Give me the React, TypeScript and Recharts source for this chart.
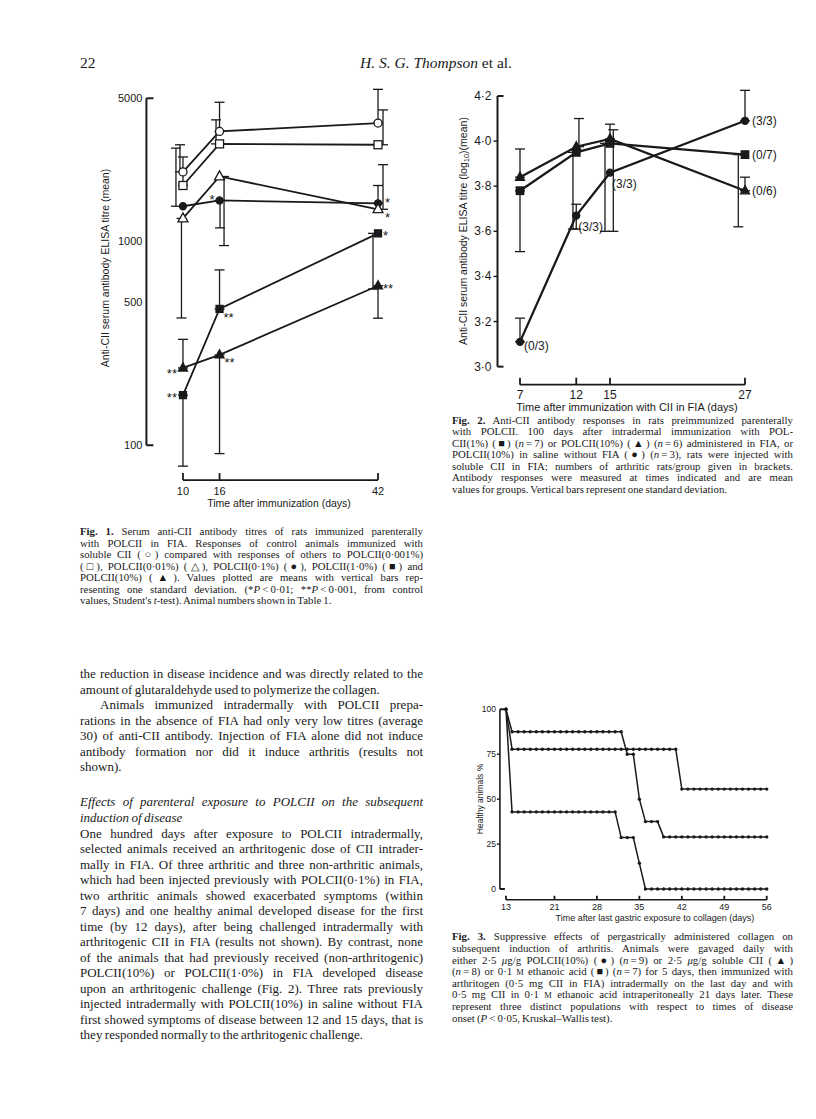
import React from "react";
import {
  LineChart,
  Line,
  XAxis,
  YAxis,
  ErrorBar,
  ReferenceLine,
  LabelList,
  Label,
} from "recharts";

const INK = "#1a1a1a";
const SANS = "'Liberation Sans', Arial, sans-serif";
const SERIF = "'Liberation Serif', 'Times New Roman', serif";

// ---------- Fig. 1: titres after immunization (log scale) ----------
const fig1Days = [10, 16, 42];
const fig1XTicks = [10, 16, 42];
const fig1YTicks = [100, 500, 1000, 5000];
const ctrlCII = [2180, 3440, 3780];
const ctrlCIIErr = [[0, 780], [0, 1340], [0, 1750]];
const pol0001 = [1870, 2990, 2960];
const pol0001Err = [[0, 710], [0, 930], [0, 1425]];
const pol001 = [1290, 2070, 1430];
const pol001Err = [[870, 0], [1120, 0], [0, 935]];
const pol01 = [1480, 1580, 1530];
const pol01Err = [[0, 1370], [420, 0], [0, 340]];
const pol1 = [176, 465, 1090];
const pol1Err = [[97, 0], [0, 257], [508, 0]];
const pol10 = [239, 277, 604];
const pol10Err = [[0, 91], [186, 0], [185, 0]];
const pol001Stars = ["", "", "*"];
const pol01Stars = ["", "*", "*"];
const pol1Stars = ["**", "**", "*"];
const pol10Stars = ["**", "**", "**"];

// ---------- Fig. 2: log10 titre after challenge ----------
const fig2Days = [7, 12, 15, 27];
const fig2YTicks = [3.0, 3.2, 3.4, 3.6, 3.8, 4.0, 4.2];
const pol1FIA = [3.78, 3.95, 3.99, 3.94];
const pol1FIAErr = [[0.27, 0], [0.34, 0], [0.39, 0], [0.32, 0]];
const pol10FIA = [3.84, 3.975, 4.01, 3.78];
const pol10FIAErr = [[0, 0.125], [0, 0.125], [0, 0.065], [0, 0.06]];
const pol10Saline = [3.11, 3.67, 3.86, 4.09];
const pol10SalineErr = [[0, 0.105], [0.06, 0.05], [0.26, 0.19], [0, 0.135]];
const pol1FIAArth = ["", "", "", "(0/7)"];
const pol10FIAArth = ["", "", "", "(0/6)"];
const pol10SalineArth = ["(0/3)", "(3/3)", "(3/3)", "(3/3)"];

// ---------- Fig. 3: healthy animals % ----------
const fig3XTicks = [13, 21, 28, 35, 42, 49, 56];
const fig3YTicks = [0, 25, 50, 75, 100];
const fig3Days = [
  13, 14, 15, 16, 17, 18, 19, 20, 21, 22, 23, 24, 25, 26, 27, 28, 29, 30, 31, 32, 33, 34,
  35, 36, 37, 38, 39, 40, 41, 42, 43, 44, 45, 46, 47, 48, 49, 50, 51, 52, 53, 54, 55, 56,
];
const gavPOLCII = [
  100, 77.8, 77.8, 77.8, 77.8, 77.8, 77.8, 77.8, 77.8, 77.8, 77.8, 77.8, 77.8, 77.8, 77.8,
  77.8, 77.8, 77.8, 77.8, 77.8, 77.8, 77.8, 77.8, 77.8, 77.8, 77.8, 77.8, 77.8, 77.8, 55.6,
  55.6, 55.6, 55.6, 55.6, 55.6, 55.6, 55.6, 55.6, 55.6, 55.6, 55.6, 55.6, 55.6, 55.6,
];
const gavCII = [
  100, 87.5, 87.5, 87.5, 87.5, 87.5, 87.5, 87.5, 87.5, 87.5, 87.5, 87.5, 87.5, 87.5, 87.5,
  87.5, 87.5, 87.5, 87.5, 87.5, 75, 75, 50, 37.5, 37.5, 37.5, 29, 29, 29, 29, 29, 29, 29, 29,
  29, 29, 29, 29, 29, 29, 29, 29, 29, 29,
];
const gavAcid = [
  100, 42.9, 42.9, 42.9, 42.9, 42.9, 42.9, 42.9, 42.9, 42.9, 42.9, 42.9, 42.9, 42.9, 42.9,
  42.9, 42.9, 42.9, 42.9, 28.6, 28.6, 28.6, 14.3, 0, 0, 0, 0, 0, 0, 0, 0, 0, 0, 0, 0, 0, 0, 0,
  0, 0, 0, 0, 0, 0,
];

const fig1Data = fig1Days.map((day, i) => ({
  day,
  ctrl: ctrlCII[i], ctrlErr: ctrlCIIErr[i],
  p0001: pol0001[i], p0001Err: pol0001Err[i],
  p001: pol001[i], p001Err: pol001Err[i], p001Star: pol001Stars[i],
  p01: pol01[i], p01Err: pol01Err[i], p01Star: pol01Stars[i],
  p1: pol1[i], p1Err: pol1Err[i], p1Star: pol1Stars[i],
  p10: pol10[i], p10Err: pol10Err[i], p10Star: pol10Stars[i],
}));

const fig2Data = fig2Days.map((day, i) => ({
  day,
  sq: pol1FIA[i], sqErr: pol1FIAErr[i], sqLab: pol1FIAArth[i],
  tri: pol10FIA[i], triErr: pol10FIAErr[i], triLab: pol10FIAArth[i],
  circ: pol10Saline[i], circErr: pol10SalineErr[i], circLab: pol10SalineArth[i],
}));

const fig3Data = fig3Days.map((day, i) => ({
  day,
  polcii: gavPOLCII[i],
  cii: gavCII[i],
  acid: gavAcid[i],
}));

// error bars in the print are nudged sideways so they don't sit on top of each other
const nudge = (rows: any[], px: number[], pxPerDay: number) =>
  rows.map((r, i) => ({ ...r, day: r.day + px[i] / pxPerDay }));

// ---------- drawing helpers ----------
const Marker = ({ cx, cy, shape, filled, size }: any) => {
  if (cx == null || cy == null) return null;
  const fill = filled ? INK : "#fff";
  if (shape === "circle")
    return <circle cx={cx} cy={cy} r={size / 2} fill={fill} stroke={INK} strokeWidth={1.3} />;
  if (shape === "square")
    return (
      <rect x={cx - size / 2} y={cy - size / 2} width={size} height={size} fill={fill} stroke={INK} strokeWidth={1.3} />
    );
  const h = size * 0.9;
  return (
    <polygon
      points={`${cx},${cy - h * 0.62} ${cx - size / 2},${cy + h * 0.38} ${cx + size / 2},${cy + h * 0.38}`}
      fill={fill}
      stroke={INK}
      strokeWidth={1.3}
    />
  );
};

const dotOf = (shape: string, filled: boolean, size: number) => (p: any) =>
  <Marker key={`m${p.index}`} cx={p.cx} cy={p.cy} shape={shape} filled={filled} size={size} />;

const makeYTick = (o: { fmt: (v: number) => string; size: number; gap: number; ends: number[]; inner: number; endLen: number }) =>
  (p: any) => {
    const v = p.payload.value;
    const end = o.ends.includes(v);
    return (
      <g>
        {end ? (
          <line x1={p.x} x2={p.x + o.endLen} y1={p.y} y2={p.y} stroke={INK} strokeWidth={2} />
        ) : o.inner > 0 ? (
          <line x1={p.x - o.inner} x2={p.x} y1={p.y} y2={p.y} stroke={INK} strokeWidth={1.4} />
        ) : null}
        <text x={p.x - o.gap} y={p.y} textAnchor="end" dominantBaseline="central" fontSize={o.size} fontFamily={SANS} fill={INK}>
          {o.fmt(v)}
        </text>
      </g>
    );
  };

const makeXTick = (o: { size: number; gap: number; len: number }) => (p: any) => (
  <g>
    <line x1={p.x} x2={p.x} y1={p.y} y2={p.y - o.len} stroke={INK} strokeWidth={1.8} />
    <text x={p.x} y={p.y + o.gap} textAnchor="middle" dominantBaseline="central" fontSize={o.size} fontFamily={SANS} fill={INK}>
      {p.payload.value}
    </text>
  </g>
);

// [dx, dy, anchor] for each point's annotation
const noteContent = (pos: any[], size: number, baseShift: number) => (p: any) => {
  if (!p.value) return null;
  const [dx, dy, anchor] = pos[p.index];
  return (
    <text x={p.x + dx} y={p.y + dy + baseShift} textAnchor={anchor} fontSize={size} fontFamily={SANS} fill={INK}>
      {p.value}
    </text>
  );
};

const AxisText = ({ x, y, size, rotate, children }: any) => (
  <text
    x={x}
    y={y}
    textAnchor="middle"
    dominantBaseline="central"
    fontSize={size}
    fontFamily={SANS}
    fill={INK}
    transform={rotate ? `rotate(-90 ${x} ${y})` : undefined}
  >
    {children}
  </text>
);

const errLine = (rows: any[], key: string, errKey: string, px: number[], pxPerDay: number) => (
  <Line
    key={`e-${key}`}
    data={nudge(rows, px, pxPerDay)}
    dataKey={key}
    stroke="none"
    dot={false}
    activeDot={false}
    isAnimationActive={false}
    legendType="none"
  >
    <ErrorBar dataKey={errKey} width={5} stroke={INK} strokeWidth={1.3} direction="y" />
  </Line>
);

// ---------- Fig. 1 ----------
function Fig1() {
  const box = { left: 78, top: 70, width: 340, height: 450 };
  const ppd = (340 - 68.4 - 27.8) / 40;
  return (
    <div style={{ position: "absolute", left: box.left, top: box.top }}>
      <LineChart width={box.width} height={box.height} data={fig1Data} margin={{ top: 12.1, right: 27.8, bottom: 9.9, left: 0 }}>
        <XAxis
          dataKey="day"
          type="number"
          domain={[4, 44]}
          ticks={fig1XTicks}
          interval={0}
          allowDataOverflow
          axisLine={false}
          tickLine={false}
          tickSize={0}
          tickMargin={0}
          height={30}
          tick={makeXTick({ size: 11, gap: 11, len: 7 })}
        >
          <Label content={() => <AxisText x={201} y={433} size={10.5}>Time after immunization (days)</AxisText>} />
        </XAxis>
        <YAxis
          type="number"
          scale="log"
          domain={[67.5, 6000]}
          ticks={fig1YTicks}
          interval={0}
          allowDataOverflow
          axisLine={false}
          tickLine={false}
          tickSize={0}
          tickMargin={0}
          width={68.4}
          tick={makeYTick({ fmt: (v) => String(v), size: 11, gap: 4, ends: [100, 5000], inner: 0, endLen: 7 })}
        >
          <Label content={() => <AxisText x={27} y={198} size={10.5} rotate>Anti-CII serum antibody ELISA titre (mean)</AxisText>} />
        </YAxis>
        <ReferenceLine segment={[{ x: 4, y: 100 }, { x: 4, y: 5000 }]} stroke={INK} strokeWidth={2} ifOverflow="visible" />
        <ReferenceLine segment={[{ x: 10, y: 67.5 }, { x: 42, y: 67.5 }]} stroke={INK} strokeWidth={1.8} ifOverflow="visible" />

        {errLine(fig1Data, "ctrl", "ctrlErr", [-3, 0, 0], ppd)}
        {errLine(fig1Data, "p0001", "p0001Err", [0, -3.5, 5], ppd)}
        {errLine(fig1Data, "p001", "p001Err", [-1.5, 4.5, 5], ppd)}
        {errLine(fig1Data, "p01", "p01Err", [-7, 0.5, 0], ppd)}
        {errLine(fig1Data, "p1", "p1Err", [0, 0, -5], ppd)}
        {errLine(fig1Data, "p10", "p10Err", [0, 0, 0], ppd)}

        <Line dataKey="p10" stroke={INK} strokeWidth={1.8} isAnimationActive={false} activeDot={false} dot={dotOf("triangle", true, 9)}>
          <LabelList dataKey="p10Star" content={noteContent([[-6, 3, "end"], [5, 5, "start"], [5, 0, "start"]], 13, 7)} />
        </Line>
        <Line dataKey="p1" stroke={INK} strokeWidth={1.8} isAnimationActive={false} activeDot={false} dot={dotOf("square", true, 7)}>
          <LabelList dataKey="p1Star" content={noteContent([[-6, 0, "end"], [4, 6, "start"], [5, 0, "start"]], 13, 7)} />
        </Line>
        <Line dataKey="p01" stroke={INK} strokeWidth={1.8} isAnimationActive={false} activeDot={false} dot={dotOf("circle", true, 7)}>
          <LabelList dataKey="p01Star" content={noteContent([[0, 0, "start"], [-5, -3, "end"], [7, -3, "start"]], 13, 7)} />
        </Line>
        <Line dataKey="p001" stroke={INK} strokeWidth={1.8} isAnimationActive={false} activeDot={false} dot={dotOf("triangle", false, 10)}>
          <LabelList dataKey="p001Star" content={noteContent([[0, 0, "start"], [0, 0, "start"], [7, 6, "start"]], 13, 7)} />
        </Line>
        <Line dataKey="p0001" stroke={INK} strokeWidth={1.8} isAnimationActive={false} activeDot={false} dot={dotOf("square", false, 8)} />
        <Line dataKey="ctrl" stroke={INK} strokeWidth={1.8} isAnimationActive={false} activeDot={false} dot={dotOf("circle", false, 8)} />
      </LineChart>
    </div>
  );
}

// ---------- Fig. 2 ----------
function Fig2() {
  const box = { left: 445, top: 80, width: 362, height: 340 };
  const ppd = (362 - 52.5 - 50.75) / 23;
  const dec = (v: number) => v.toFixed(1).replace(".", "·");
  return (
    <div style={{ position: "absolute", left: box.left, top: box.top }}>
      <LineChart width={box.width} height={box.height} data={fig2Data} margin={{ top: 4.7, right: 50.75, bottom: 5.3, left: 0 }}>
        <XAxis
          dataKey="day"
          type="number"
          domain={[5, 28]}
          ticks={fig2Days}
          interval={0}
          allowDataOverflow
          axisLine={false}
          tickLine={false}
          tickSize={0}
          tickMargin={0}
          height={30}
          tick={makeXTick({ size: 12, gap: 10, len: 7 })}
        >
          <Label
            content={() => (
              <AxisText x={182} y={327} size={11}>
                Time after immunization with CII in FIA (days)
              </AxisText>
            )}
          />
        </XAxis>
        <YAxis
          type="number"
          domain={[2.92, 4.25]}
          ticks={fig2YTicks}
          interval={0}
          allowDataOverflow
          axisLine={false}
          tickLine={false}
          tickSize={0}
          tickMargin={0}
          width={52.5}
          tick={makeYTick({ fmt: dec, size: 12, gap: 6, ends: [3.0, 4.2], inner: 4, endLen: 6 })}
        >
          <Label
            content={() => (
              <AxisText x={18} y={151} size={10.5} rotate>
                Anti-CII serum antibody ELISA titre (log
                <tspan dy={3} fontSize={7.5}>10</tspan>
                <tspan dy={-3}>)(mean)</tspan>
              </AxisText>
            )}
          />
        </YAxis>
        <ReferenceLine segment={[{ x: 5, y: 3.0 }, { x: 5, y: 4.2 }]} stroke={INK} strokeWidth={2} ifOverflow="visible" />
        <ReferenceLine segment={[{ x: 7, y: 2.92 }, { x: 27, y: 2.92 }]} stroke={INK} strokeWidth={1.8} ifOverflow="visible" />

        {errLine(fig2Data, "circ", "circErr", [0, 0, 3.3, 0], ppd)}
        {errLine(fig2Data, "tri", "triErr", [0, 2.7, 0, 0], ppd)}
        {errLine(fig2Data, "sq", "sqErr", [0, -3.3, -5, -6.7], ppd)}

        <Line dataKey="circ" stroke={INK} strokeWidth={2.3} isAnimationActive={false} activeDot={false} dot={dotOf("circle", true, 7)}>
          <LabelList
            dataKey="circLab"
            content={noteContent([[4, 4, "start"], [2, 11, "start"], [2, 11, "start"], [7, 0, "start"]], 12, 4.5)}
          />
        </Line>
        <Line dataKey="tri" stroke={INK} strokeWidth={2.3} isAnimationActive={false} activeDot={false} dot={dotOf("triangle", true, 9)}>
          <LabelList dataKey="triLab" content={noteContent([[0, 0, "start"], [0, 0, "start"], [0, 0, "start"], [7, 0, "start"]], 12, 4.5)} />
        </Line>
        <Line dataKey="sq" stroke={INK} strokeWidth={2.3} isAnimationActive={false} activeDot={false} dot={dotOf("square", true, 7.5)}>
          <LabelList dataKey="sqLab" content={noteContent([[0, 0, "start"], [0, 0, "start"], [0, 0, "start"], [7, 0, "start"]], 12, 4.5)} />
        </Line>
      </LineChart>
    </div>
  );
}

// ---------- Fig. 3 ----------
function Fig3() {
  const box = { left: 450, top: 695, width: 330, height: 235 };
  const dot = { r: 1.7, fill: INK, stroke: INK, strokeWidth: 0 };
  return (
    <div style={{ position: "absolute", left: box.left, top: box.top }}>
      <LineChart width={box.width} height={box.height} data={fig3Data} margin={{ top: 7.1, right: 7.2, bottom: 10.2, left: 0 }}>
        <XAxis
          dataKey="day"
          type="number"
          domain={[12, 57]}
          ticks={fig3XTicks}
          interval={0}
          allowDataOverflow
          axisLine={false}
          tickLine={false}
          tickSize={0}
          tickMargin={0}
          height={20}
          tick={makeXTick({ size: 9, gap: 7, len: 4 })}
        >
          <Label
            content={() => (
              <AxisText x={205} y={223} size={9}>
                Time after last gastric exposure to collagen (days)
              </AxisText>
            )}
          />
        </XAxis>
        <YAxis
          type="number"
          domain={[-6, 104]}
          ticks={fig3YTicks}
          interval={0}
          allowDataOverflow
          axisLine={false}
          tickLine={false}
          tickSize={0}
          tickMargin={0}
          width={49.9}
          tick={makeYTick({ fmt: (v) => String(v), size: 8.5, gap: 4, ends: [0, 100], inner: 3, endLen: 5 })}
        >
          <Label content={() => <AxisText x={30} y={104} size={8.5} rotate>Healthy animals %</AxisText>} />
        </YAxis>
        <ReferenceLine segment={[{ x: 12, y: 0 }, { x: 12, y: 100 }]} stroke={INK} strokeWidth={1.6} ifOverflow="visible" />
        <ReferenceLine segment={[{ x: 13, y: -6 }, { x: 56, y: -6 }]} stroke={INK} strokeWidth={1.4} ifOverflow="visible" />
        <Line dataKey="polcii" stroke={INK} strokeWidth={1.5} isAnimationActive={false} activeDot={false} dot={dot} />
        <Line dataKey="cii" stroke={INK} strokeWidth={1.5} isAnimationActive={false} activeDot={false} dot={dot} />
        <Line dataKey="acid" stroke={INK} strokeWidth={1.5} isAnimationActive={false} activeDot={false} dot={dot} />
      </LineChart>
    </div>
  );
}

// ---------- page text ----------
const TL = ({ x, y, w, size, lh, last, indent = 0, children, style }: any) => (
  <div
    style={{
      position: "absolute",
      left: x + indent,
      top: y - lh / 2 - 1.2,
      width: w - indent,
      height: lh,
      lineHeight: `${lh}px`,
      fontSize: size,
      whiteSpace: "nowrap",
      textAlign: last ? "left" : "justify",
      textAlignLast: last ? "left" : "justify",
      ...style,
    }}
  >
    {children}
  </div>
);

const sc = (s: string) => <span style={{ fontSize: "0.78em" }}>{s}</span>;

function Captions() {
  const L = { x: 80, w: 343 };
  const R = { x: 452, w: 341 };
  const cap = { size: 10.8, lh: 11.5, style: { wordSpacing: "-0.6px" } };
  const f1 = [
    <><b>Fig. 1.</b> Serum anti-CII antibody titres of rats immunized parenterally</>,
    <>with POLCII in FIA. Responses of control animals immunized with</>,
    <>soluble CII (○) compared with responses of others to POLCII(0·001%)</>,
    <>(□), POLCII(0·01%) (△), POLCII(0·1%) (●), POLCII(1·0%) (■) and</>,
    <>POLCII(10%) (▲). Values plotted are means with vertical bars rep-</>,
    <>resenting one standard deviation. (*<i>P</i>{"\u2009<\u2009"}0·01; **<i>P</i>{"\u2009<\u2009"}0·001, from control</>,
    <>values, Student's <i>t</i>-test). Animal numbers shown in Table 1.</>,
  ];
  const f2 = [
    <><b>Fig. 2.</b> Anti-CII antibody responses in rats preimmunized parenterally</>,
    <>with POLCII. 100 days after intradermal immunization with POL-</>,
    <>CII(1%) (■) (<i>n</i>{"\u2009=\u2009"}7) or POLCII(10%) (▲) (<i>n</i>{"\u2009=\u2009"}6) administered in FIA, or</>,
    <>POLCII(10%) in saline without FIA (●) (<i>n</i>{"\u2009=\u2009"}3), rats were injected with</>,
    <>soluble CII in FIA; numbers of arthritic rats/group given in brackets.</>,
    <>Antibody responses were measured at times indicated and are mean</>,
    <>values for groups. Vertical bars represent one standard deviation.</>,
  ];
  const f3 = [
    <><b>Fig. 3.</b> Suppressive effects of pergastrically administered collagen on</>,
    <>subsequent induction of arthritis. Animals were gavaged daily with</>,
    <>either 2·5 <i>μ</i>g/g POLCII(10%) (●) (<i>n</i>{"\u2009=\u2009"}9) or 2·5 <i>μ</i>g/g soluble CII (▲)</>,
    <>(<i>n</i>{"\u2009=\u2009"}8) or 0·1 {sc("M")} ethanoic acid (■) (<i>n</i>{"\u2009=\u2009"}7) for 5 days, then immunized with</>,
    <>arthritogen (0·5 mg CII in FIA) intradermally on the last day and with</>,
    <>0·5 mg CII in 0·1 {sc("M")} ethanoic acid intraperitoneally 21 days later. These</>,
    <>represent three distinct populations with respect to times of disease</>,
    <>onset (<i>P</i>{"\u2009<\u2009"}0·05, Kruskal–Wallis test).</>,
  ];
  return (
    <>
      {f1.map((c, i) => (
        <TL key={`a${i}`} {...L} {...cap} y={533.3 + i * 11.5} last={i === f1.length - 1}>{c}</TL>
      ))}
      {f2.map((c, i) => (
        <TL key={`b${i}`} {...R} {...cap} y={421.7 + i * 11.5} last={i === f2.length - 1}>{c}</TL>
      ))}
      {f3.map((c, i) => (
        <TL key={`c${i}`} {...R} {...cap} y={938.3 + i * 11.6} last={i === f3.length - 1}>{c}</TL>
      ))}
    </>
  );
}

function Body() {
  const L = { x: 80, w: 343, size: 13, lh: 15.5, style: { wordSpacing: "-0.8px" } };
  const p1 = [
    "the reduction in disease incidence and was directly related to the",
    "amount of glutaraldehyde used to polymerize the collagen.",
  ];
  const p2 = [
    "Animals immunized intradermally with POLCII prepa-",
    "rations in the absence of FIA had only very low titres (average",
    "30) of anti-CII antibody. Injection of FIA alone did not induce",
    "antibody formation nor did it induce arthritis (results not",
    "shown).",
  ];
  const head = ["Effects of parenteral exposure to POLCII on the subsequent", "induction of disease"];
  const p3 = [
    "One hundred days after exposure to POLCII intradermally,",
    "selected animals received an arthritogenic dose of CII intrader-",
    "mally in FIA. Of three arthritic and three non-arthritic animals,",
    "which had been injected previously with POLCII(0·1%) in FIA,",
    "two arthritic animals showed exacerbated symptoms (within",
    "7 days) and one healthy animal developed disease for the first",
    "time (by 12 days), after being challenged intradermally with",
    "arthritogenic CII in FIA (results not shown). By contrast, none",
    "of the animals that had previously received (non-arthritogenic)",
    "POLCII(10%) or POLCII(1·0%) in FIA developed disease",
    "upon an arthritogenic challenge (Fig. 2). Three rats previously",
    "injected intradermally with POLCII(10%) in saline without FIA",
    "first showed symptoms of disease between 12 and 15 days, that is",
    "they responded normally to the arthritogenic challenge.",
  ];
  return (
    <>
      {p1.map((t, i) => (
        <TL key={`p1${i}`} {...L} y={675 + i * 15.5} last={i === p1.length - 1}>{t}</TL>
      ))}
      {p2.map((t, i) => (
        <TL key={`p2${i}`} {...L} y={706 + i * 15.5} indent={i === 0 ? 20 : 0} last={i === p2.length - 1}>{t}</TL>
      ))}
      {head.map((t, i) => (
        <TL key={`h${i}`} {...L} y={803 + i * 15.5} last={i === head.length - 1} style={{ ...L.style, fontStyle: "italic" }}>{t}</TL>
      ))}
      {p3.map((t, i) => (
        <TL key={`p3${i}`} {...L} y={834.5 + i * 15.5} last={i === p3.length - 1}>{t}</TL>
      ))}
    </>
  );
}

export default function App() {
  return (
    <div
      style={{
        position: "absolute",
        left: 0,
        top: 0,
        width: 816,
        height: 1119,
        background: "#fff",
        color: INK,
        fontFamily: SERIF,
        overflow: "hidden",
      }}
    >
      <div style={{ position: "absolute", left: 80, top: 54, fontSize: 15.5, lineHeight: "18px" }}>22</div>
      <div style={{ position: "absolute", left: 300, width: 272, top: 54, fontSize: 15.5, lineHeight: "18px", textAlign: "center" }}>
        <i>H. S. G. Thompson</i> et al.
      </div>
      <Fig1 />
      <Fig2 />
      <Fig3 />
      <Captions />
      <Body />
    </div>
  );
}
